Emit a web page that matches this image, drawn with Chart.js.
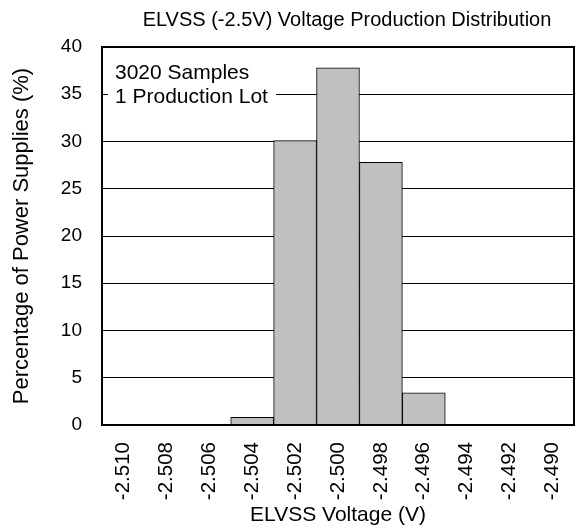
<!DOCTYPE html>
<html>
<head>
<meta charset="utf-8">
<script src="https://cdn.jsdelivr.net/npm/chart.js@4"></script>
<style>
  html, body { margin: 0; padding: 0; background: #fff; overflow: hidden; }
  #wrap { width: 577px; height: 532px; }
  canvas { display: block; }
</style>
</head>
<body>
<div id="wrap"><canvas id="histChart" width="577" height="532"></canvas></div>
<script>
const voltageBins = ['-2.510', '-2.508', '-2.506', '-2.504', '-2.502', '-2.500',
                     '-2.498', '-2.496', '-2.494', '-2.492', '-2.490'];
const percentSupplies = [0, 0, 0, 0.8, 30.1, 37.8, 27.8, 3.4, 0, 0, 0];
const yTicks = [0, 5, 10, 15, 20, 25, 30, 35, 40];
const noteLines = ['3020 Samples', '1 Production Lot'];
const chartTitle = 'ELVSS (-2.5V) Voltage Production Distribution';

const FONT = "'Liberation Sans', Arial, sans-serif";

// title, note box and plot frame
const decor = {
    id: 'decor',
    afterDatasetsDraw(chart) {
        const { ctx, chartArea: a } = chart;
        ctx.save();
        // note box
        ctx.fillStyle = '#fff';
        ctx.fillRect(a.left + 6, a.top + 12, 168, 52);
        ctx.fillStyle = '#000';
        ctx.font = '21px ' + FONT;
        ctx.textBaseline = 'alphabetic';
        ctx.textAlign = 'left';
        ctx.fillText(noteLines[0], a.left + 13, 79);
        ctx.fillText(noteLines[1], a.left + 13, 103);
        // frame
        ctx.strokeStyle = '#000';
        ctx.lineWidth = 2;
        ctx.strokeRect(a.left, a.top, a.right - a.left, a.bottom - a.top);
        // title
        ctx.font = '20px ' + FONT;
        ctx.textAlign = 'center';
        ctx.fillText(chartTitle, 347, 26);
        ctx.restore();
    }
};

const ctx = document.getElementById('histChart').getContext('2d');
new Chart(ctx, {
    type: 'bar',
    data: {
        labels: voltageBins,
        datasets: [{
            data: percentSupplies,
            backgroundColor: '#c0c0c0',
            borderColor: '#000',
            borderWidth: 1,
            barPercentage: 1,
            categoryPercentage: 1
        }]
    },
    options: {
        responsive: false,
        animation: false,
        layout: { padding: { top: 47, right: 3, left: 0, bottom: 0 } },
        plugins: {
            legend: { display: false },
            tooltip: { enabled: false }
        },
        scales: {
            x: {
                grid: { display: false, drawTicks: false },
                border: { display: false },
                ticks: {
                    color: '#000',
                    font: { family: FONT, size: 20.5 },
                    minRotation: 90,
                    maxRotation: 90,
                    padding: 17,
                    autoSkip: false
                },
                title: {
                    display: true,
                    text: 'ELVSS Voltage (V)',
                    color: '#000',
                    font: { family: FONT, size: 21 },
                    padding: { top: 4, bottom: 4 }
                },
                afterFit: s => {
                    s.height = 107;
                    s.paddingLeft = 0;
                    s.paddingRight = 0;
                }
            },
            y: {
                min: 0,
                max: 40,
                afterBuildTicks: s => { s.ticks = yTicks.map(v => ({ value: v })); },
                grid: { color: '#000', lineWidth: 1, drawTicks: false },
                border: { display: false },
                ticks: {
                    color: '#000',
                    font: { family: FONT, size: 19 },
                    padding: 20
                },
                title: {
                    display: true,
                    text: 'Percentage of Power Supplies (%)',
                    color: '#000',
                    font: { family: FONT, size: 22 },
                    padding: { top: 9, bottom: 9 }
                },
                afterFit: s => {
                    s.width = 102;
                    s.paddingTop = 0;
                    s.paddingBottom = 0;
                }
            }
        }
    },
    plugins: [decor]
});
</script>
</body>
</html>
